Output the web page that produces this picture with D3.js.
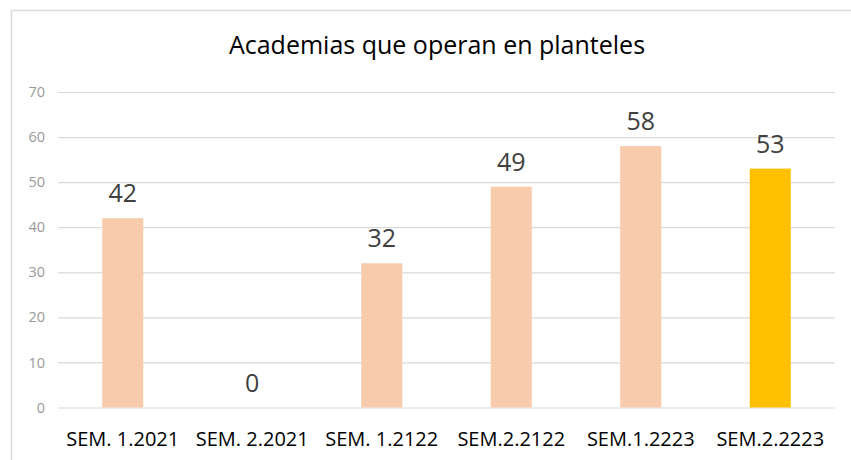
<!DOCTYPE html>
<html>
<head>
<meta charset="utf-8">
<script src="https://cdn.jsdelivr.net/npm/d3@7"></script>
<style>
  body { margin: 0; background: #fff; }
  svg { display: block; font-family: "Open Sans", "Noto Sans", sans-serif; }
</style>
</head>
<body>
<svg id="chart" width="851" height="460"></svg>
<script>
// chart data
const categories = ['SEM. 1.2021', 'SEM. 2.2021', 'SEM. 1.2122', 'SEM.2.2122', 'SEM.1.2223', 'SEM.2.2223'];
const values = [42, 0, 32, 49, 58, 53];
const barColors = ['#F8CBAD', '#F8CBAD', '#F8CBAD', '#F8CBAD', '#F8CBAD', '#FFC000'];
const yTicks = [0, 10, 20, 30, 40, 50, 60, 70];
const title = 'Academias que operan en planteles';

const svg = d3.select('#chart');
const width = 851, height = 460;

// plot area
const plotLeft = 58, plotRight = 835, plotTop = 92, plotBottom = 407.5;

// chart frame (only top and left edges are visible)
svg.append('path')
  .attr('d', `M11.5,${height} L11.5,10.5 L${width},10.5`)
  .attr('fill', 'none')
  .attr('stroke', '#d9d9d9')
  .attr('stroke-width', 1.5);

const x = d3.scaleBand()
  .domain(categories)
  .range([plotLeft, plotRight])
  .paddingInner(0.683)
  .paddingOuter(0.3415);

const y = d3.scaleLinear()
  .domain([0, 70])
  .range([plotBottom, plotTop]);

// gridlines + y labels
const yAxis = d3.axisLeft(y)
  .tickValues(yTicks)
  .tickSize(-(plotRight - plotLeft))
  .tickPadding(13);

const gy = svg.append('g')
  .attr('transform', `translate(${plotLeft},0)`)
  .call(yAxis);
gy.select('.domain').remove();
gy.selectAll('line').attr('stroke', '#d9d9d9').attr('stroke-width', 1.2);
gy.selectAll('text')
  .attr('fill', '#999999')
  .attr('font-size', 14.5)
  .attr('font-family', '"Open Sans", sans-serif');

// bars
svg.selectAll('rect.bar')
  .data(values)
  .join('rect')
  .attr('class', 'bar')
  .attr('x', (d, i) => x(categories[i]))
  .attr('y', d => y(d))
  .attr('width', x.bandwidth())
  .attr('height', d => plotBottom - y(d))
  .attr('fill', (d, i) => barColors[i]);

// value labels
svg.selectAll('text.val')
  .data(values)
  .join('text')
  .attr('class', 'val')
  .attr('x', (d, i) => x(categories[i]) + x.bandwidth() / 2)
  .attr('y', d => y(d) - 16)
  .attr('text-anchor', 'middle')
  .attr('fill', '#404040')
  .attr('font-size', 25)
  .text(d => d);

// x labels
const xAxis = d3.axisBottom(x).tickSize(0).tickPadding(0);
const gx = svg.append('g')
  .attr('transform', `translate(0,${plotBottom})`)
  .call(xAxis);
gx.select('.domain').remove();
gx.selectAll('text')
  .attr('y', 0)
  .attr('dy', 0)
  .attr('transform', 'translate(0,38)')
  .attr('fill', '#000')
  .attr('font-size', 20)
  .attr('font-family', '"Open Sans", sans-serif');

// title
svg.append('text')
  .attr('x', 437)
  .attr('y', 54)
  .attr('text-anchor', 'middle')
  .attr('fill', '#000')
  .attr('font-size', 25)
  .text(title);
</script>
</body>
</html>
